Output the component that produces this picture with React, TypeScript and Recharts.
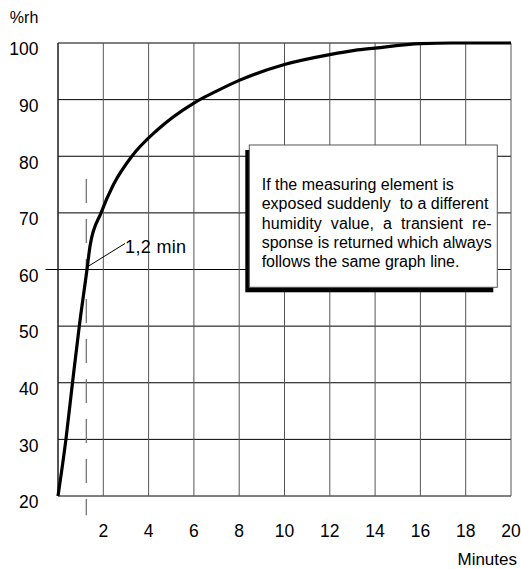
import React from 'react';
import { LineChart, Line, XAxis, YAxis, CartesianGrid, ReferenceLine, ReferenceArea, ReferenceDot } from 'recharts';

const minutes = [0, 0.35, 0.64, 0.94, 1.28, 1.42, 1.9, 2.45, 3.26, 4.37, 6.0, 7.0, 8, 10, 12, 13.1, 14, 16, 17.4, 20];
const humidity = [20, 30, 40, 50, 60, 64.3, 70, 75, 80, 84.6, 89.4, 91.5, 93.4, 96.2, 97.95, 98.7, 99.1, 99.9, 100, 100];
const xTicks = [2, 4, 6, 8, 10, 12, 14, 16, 18, 20];
const yTicks = [20, 30, 40, 50, 60, 70, 80, 90, 100];
const markerMinutes = 1.25;
const markerLabel = '1,2 min';
const yUnit = '%rh';
const xUnit = 'Minutes';
const noteLines = [
  'If the measuring element is',
  'exposed suddenly  to a different',
  'humidity  value,  a  transient  re-',
  'sponse is returned which always',
  'follows the same graph line.',
];
const noteWidths = [192, 226.7, 230, 230, 197.7];

const data = minutes.map((m, i) => ({ m, rh: humidity[i] }));
const FONT = '"Liberation Sans", Arial, Helvetica, sans-serif';

const XTick = (props: any) => {
  const { x, y, payload } = props;
  return (
    <text x={x} y={y + 33} textAnchor="middle" fontFamily={FONT} fontSize={17.5} fill="#000">
      {payload.value}
    </text>
  );
};

const YTick = (props: any) => {
  const { x, y, payload } = props;
  return (
    <text x={x - 11.5} y={y + 12.3} textAnchor="end" fontFamily={FONT} fontSize={17.5} fill="#000">
      {payload.value}
    </text>
  );
};

const NoteBox = (props: any) => {
  const { x, y, width, height } = props;
  return (
    <g>
      <rect x={x - 4} y={y + 5} width={width} height={height} fill="#000" />
      <rect x={x} y={y} width={width} height={height} fill="#fff" stroke="#555" strokeWidth={1} />
      {noteLines.map((t, i) => (
        <text
          key={i}
          x={x + 12.4}
          y={y + 45 + i * 19.3}
          fontFamily={FONT}
          fontSize={16}
          fill="#000"
          textLength={noteWidths[i]}
          lengthAdjust="spacing"
          style={{ whiteSpace: 'pre' }}
        >
          {t}
        </text>
      ))}
    </g>
  );
};

export default function App() {
  return (
    <div style={{ position: 'absolute', left: 0, top: 0, width: 521, height: 569, background: '#fff' }}>
      <LineChart width={521} height={569} data={data} margin={{ top: 43, right: 10, bottom: 0, left: 0 }}>
        <CartesianGrid horizontal={true} vertical={false} stroke="#000" strokeWidth={1} />
        <CartesianGrid horizontal={false} vertical={true} stroke="#555" strokeWidth={1} />
        <XAxis
          dataKey="m"
          type="number"
          domain={[0, 20]}
          ticks={xTicks}
          interval={0}
          height={73}
          axisLine={false}
          tickLine={false}
          tick={XTick}
          label={{
            content: (p: any) => {
              const vb = p.viewBox;
              return (
                <text x={vb.x + vb.width + 6} y={vb.y + 69} textAnchor="end" fontFamily={FONT} fontSize={17} fill="#000">
                  {xUnit}
                </text>
              );
            },
          }}
        />
        <YAxis
          type="number"
          domain={[20, 100]}
          ticks={yTicks}
          interval={0}
          width={58}
          axisLine={{ stroke: '#000', strokeWidth: 1 }}
          tickLine={false}
          tick={YTick}
          label={{
            content: (p: any) => {
              const vb = p.viewBox;
              return (
                <text x={vb.x + vb.width - 19.7} y={vb.y - 19.7} textAnchor="end" fontFamily={FONT} fontSize={16} fill="#000">
                  {yUnit}
                </text>
              );
            },
          }}
        />
        <ReferenceLine
          segment={[{ x: markerMinutes, y: 76 }, { x: markerMinutes, y: 16.6 }]}
          stroke="#777"
          strokeWidth={1.3}
          strokeDasharray="24 16"
          ifOverflow="visible"
        />
        <ReferenceLine
          segment={[{ x: -0.55, y: 60 }, { x: 0, y: 60 }]}
          stroke="#000"
          strokeWidth={1}
          ifOverflow="visible"
        />
        <ReferenceArea x1={8.446} x2={19.395} y1={56.86} y2={81.99} ifOverflow="visible" shape={NoteBox} />
        <ReferenceLine
          segment={[{ x: 1.27, y: 60.4 }, { x: 2.96, y: 64.6 }]}
          stroke="#000"
          strokeWidth={1}
          ifOverflow="visible"
        />
        <ReferenceDot
          x={2.96}
          y={64.6}
          r={0}
          fill="none"
          stroke="none"
          ifOverflow="visible"
          label={{
            content: (p: any) => {
              const vb = p.viewBox;
              return (
                <text x={vb.x} y={vb.y + 9.4} fontFamily={FONT} fontSize={18} fill="#000" textLength={61} lengthAdjust="spacing">
                  {markerLabel}
                </text>
              );
            },
          }}
        />
        <Line
          type="monotone"
          dataKey="rh"
          stroke="#000"
          strokeWidth={3.2}
          dot={false}
          activeDot={false}
          isAnimationActive={false}
        />
      </LineChart>
    </div>
  );
}
